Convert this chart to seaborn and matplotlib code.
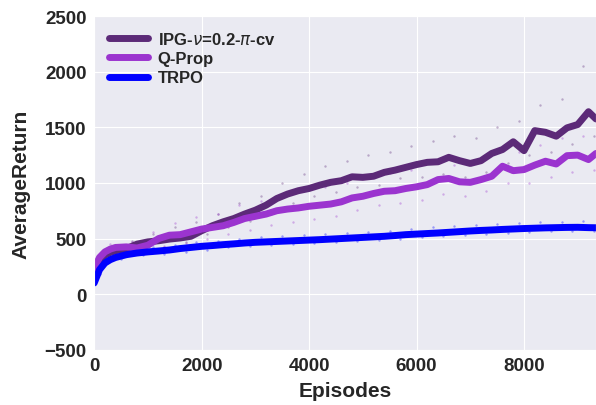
import numpy as np
import pandas as pd
import matplotlib
matplotlib.use("Agg")
import matplotlib.pyplot as plt
import seaborn as sns

# smoothed curves
episodes = [0, 100, 200, 300, 400, 600, 800, 1000, 1200, 1400, 1600, 1800, 2000,
            2200, 2400, 2600, 2800, 3000, 3200, 3400, 3600, 3800, 4000, 4200,
            4400, 4600, 4800, 5000, 5200, 5400, 5600, 5800, 6000, 6200, 6400,
            6600, 6800, 7000, 7200, 7400, 7600, 7800, 8000, 8200, 8400, 8600,
            8800, 9000, 9200, 9340]

ipg = [230, 300, 350, 375, 390, 410, 450, 470, 480, 495, 505, 520, 570,
       615, 650, 680, 720, 755, 800, 860, 900, 930, 950, 980,
       1005, 1020, 1055, 1050, 1060, 1095, 1115, 1140, 1165, 1185, 1190,
       1230, 1200, 1175, 1200, 1265, 1300, 1370, 1290, 1470, 1455, 1420,
       1495, 1525, 1640, 1575]

qprop = [230, 330, 380, 405, 420, 425, 415, 440, 500, 530, 535, 560, 585,
         600, 615, 645, 680, 700, 720, 750, 765, 775, 790, 800,
         810, 830, 865, 880, 905, 925, 930, 950, 965, 985, 1030,
         1040, 1010, 1005, 1030, 1060, 1150, 1110, 1120, 1160, 1195, 1170,
         1245, 1250, 1210, 1265]

trpo = [100, 220, 280, 310, 330, 355, 370, 380, 388, 397, 410, 420, 430,
        437, 445, 452, 460, 466, 470, 474, 478, 482, 486, 490,
        495, 500, 505, 510, 515, 520, 527, 535, 540, 545, 550,
        556, 562, 568, 573, 577, 582, 586, 590, 593, 596, 598,
        600, 601, 598, 597]

# raw (unsmoothed) returns shown as faint dots
raw_episodes = list(range(100, 9400, 200))

ipg_raw = [280, 420, 350, 480, 430, 540, 420, 600, 470, 650, 540, 720, 600,
           820, 660, 880, 720, 1000, 820, 1080, 880, 1150, 920, 1200, 960,
           1250, 980, 1280, 1040, 1330, 1050, 1380, 1080, 1420, 1050, 1400,
           1100, 1500, 1180, 1560, 1250, 1700, 1280, 1750, 1350, 2050, 1420]

qprop_raw = [300, 450, 380, 470, 360, 560, 430, 640, 460, 690, 500, 720, 540,
             800, 580, 840, 620, 900, 650, 940, 680, 960, 700, 1000, 760,
             1060, 800, 1090, 820, 1120, 850, 1180, 900, 1160, 880, 1180,
             930, 1300, 1000, 1280, 1000, 1340, 1050, 1400, 1100, 1420, 1120]

trpo_raw = [180, 340, 320, 390, 350, 420, 360, 440, 380, 470, 400, 480, 420,
            500, 430, 510, 440, 520, 450, 530, 460, 540, 465, 550, 480,
            560, 490, 570, 500, 590, 510, 600, 520, 610, 530, 620, 540,
            630, 550, 640, 560, 650, 565, 650, 570, 655, 570]

labels = [r"IPG-$\nu$=0.2-$\pi$-cv", "Q-Prop", "TRPO"]
colors = ["#5c2a78", "#9b34cf", "#0000ff"]

sns.set_style("darkgrid")
plt.rcParams["font.family"] = ["Liberation Sans", "DejaVu Sans"]
plt.rcParams["mathtext.fontset"] = "dejavusans"

fig = plt.figure(figsize=(5.96, 4.06), dpi=100)
ax = fig.add_axes([0.158, 0.136, 0.842, 0.822])

for raw, color in zip([ipg_raw, qprop_raw, trpo_raw], colors):
    ax.scatter(raw_episodes, raw, s=3, color=color, alpha=0.35, linewidths=0)

for vals, label, color in zip([ipg, qprop, trpo], labels, colors):
    df = pd.DataFrame({"Episodes": episodes, "AverageReturn": vals})
    sns.lineplot(data=df, x="Episodes", y="AverageReturn", ax=ax,
                 color=color, linewidth=5, label=label)

ax.set_xlim(0, 9340)
ax.set_ylim(-500, 2500)
ax.set_xticks([0, 2000, 4000, 6000, 8000])
ax.set_yticks([-500, 0, 500, 1000, 1500, 2000, 2500])
ax.tick_params(labelsize=13.5, pad=2)
for t in ax.get_xticklabels() + ax.get_yticklabels():
    t.set_fontweight("bold")
ax.set_xlabel("Episodes", fontsize=15, fontweight="bold", labelpad=5)
ax.set_ylabel("AverageReturn", fontsize=15, fontweight="bold", labelpad=10)

leg = ax.legend(loc="upper left", frameon=False,
                prop={"size": 12, "weight": "bold"},
                handlelength=2.3, handletextpad=0.6, labelspacing=0.25)
for line in leg.get_lines():
    line.set_linewidth(5)

fig.savefig("out.png", dpi=100)
